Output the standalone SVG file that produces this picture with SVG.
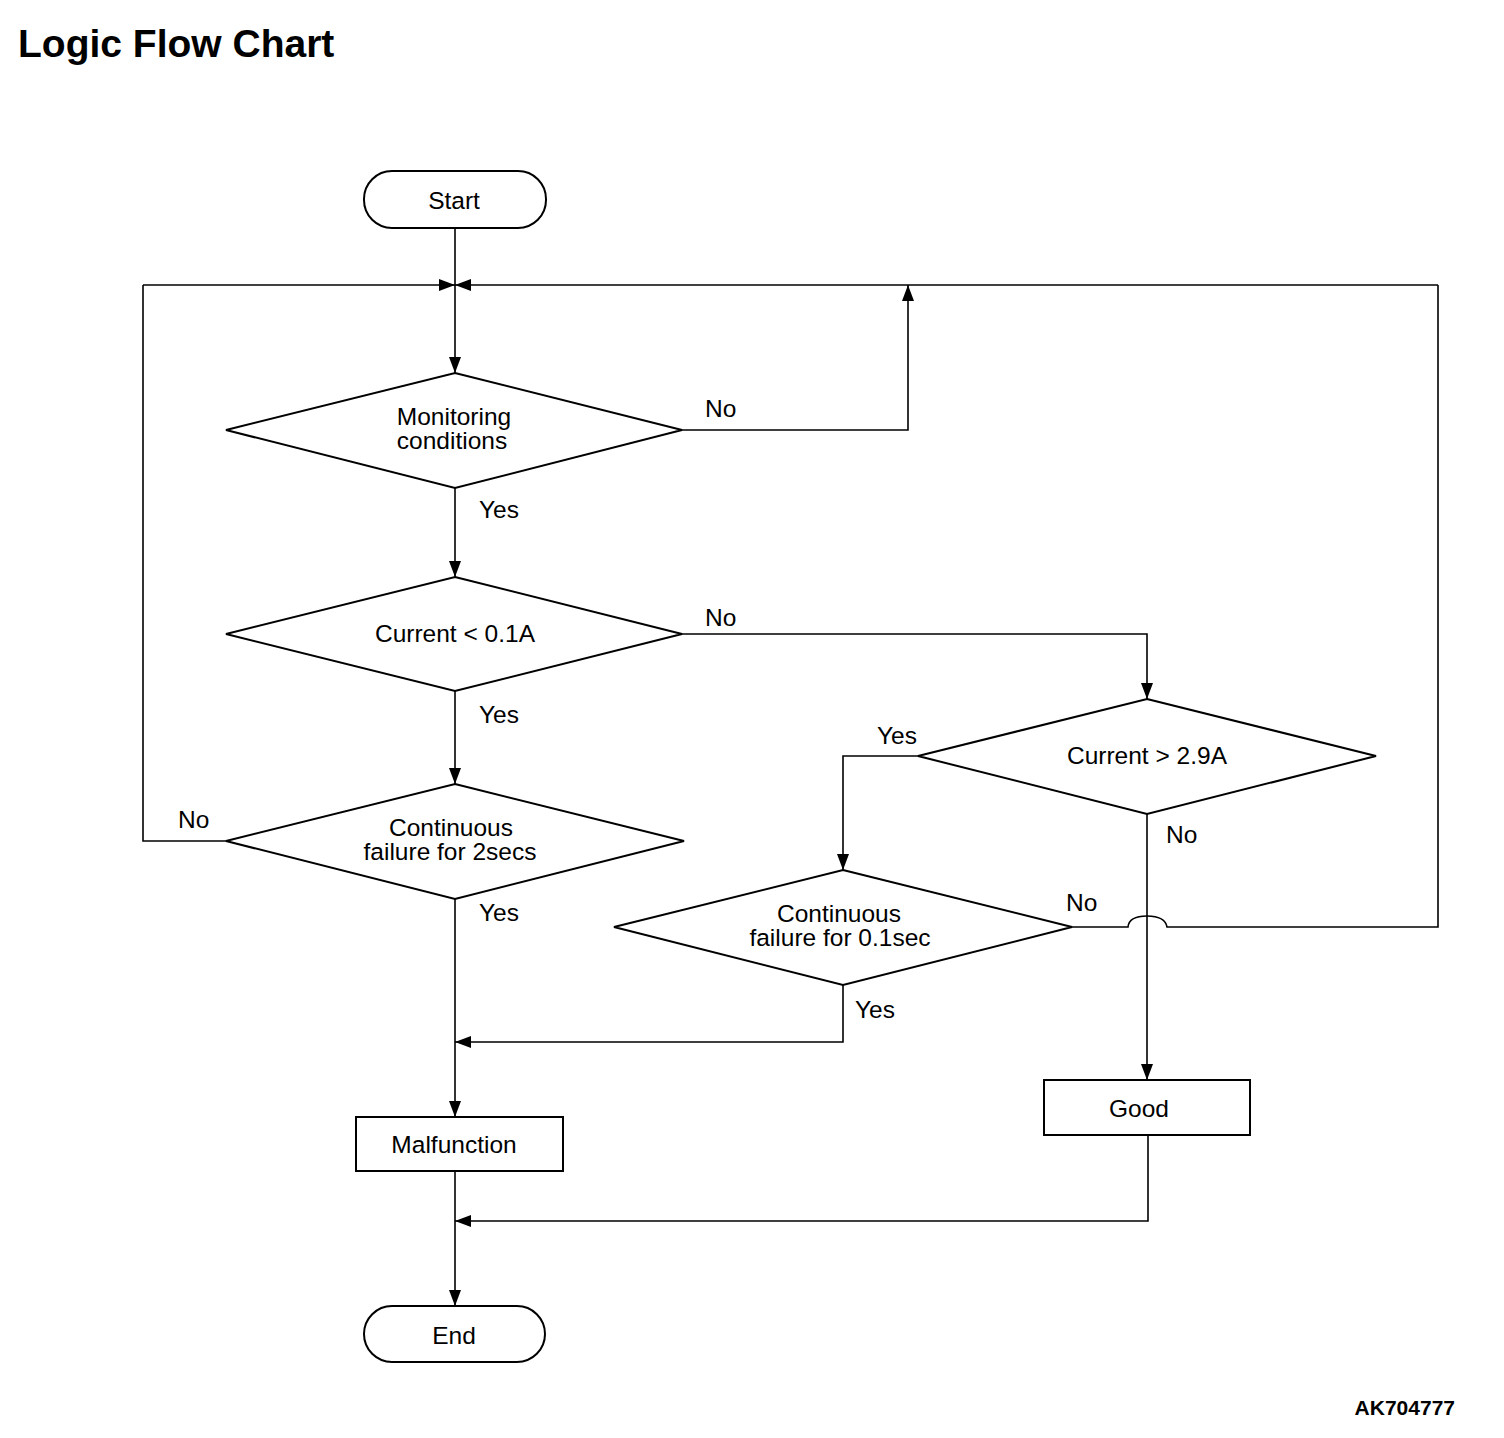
<svg xmlns="http://www.w3.org/2000/svg" width="1504" height="1438" viewBox="0 0 1504 1438">
<defs>
<marker id="ah" viewBox="0 0 16 12" refX="16" refY="6" markerWidth="16" markerHeight="12" markerUnits="userSpaceOnUse" orient="auto">
<path d="M0,0 L16,6 L0,12 Z" fill="#000"/>
</marker>
</defs>
<style>
.shape{fill:#fff;stroke:#000;stroke-width:2}
.line{fill:none;stroke:#000;stroke-width:1.6}
.arr{marker-end:url(#ah)}
text{font-family:"Liberation Sans",Arial,sans-serif;font-size:24.5px;fill:#000}
.c{text-anchor:middle}
</style>
<rect width="1504" height="1438" fill="#fff"/>
<text x="18" y="57" style="font-size:39px;font-weight:bold">Logic Flow Chart</text>
<text x="1455" y="1415" style="font-size:21px;font-weight:bold;text-anchor:end">AK704777</text>

<g id="connectors">
<path class="line arr" d="M455,228 V373"/>
<path class="line arr" d="M143,285 H455"/>
<path class="line arr" d="M1438,285 H455"/>
<path class="line arr" d="M682,430 H908 V285"/>
<path class="line arr" d="M455,488 V577"/>
<path class="line arr" d="M682,634 H1147 V699"/>
<path class="line arr" d="M455,691 V784"/>
<path class="line" d="M226,841 H143 V285"/>
<path class="line arr" d="M455,899 V1117"/>
<path class="line arr" d="M918,756 H843 V870"/>
<path class="line arr" d="M1147,814 V1080"/>
<path class="line" d="M1072,927 H1128 Q1129,916 1147,916 Q1165,916 1167,927 H1438 V285"/>
<path class="line arr" d="M843,985 V1042 H455"/>
<path class="line arr" d="M455,1171 V1306"/>
<path class="line arr" d="M1148,1135 V1221 H455"/>
</g>

<g id="start">
<rect class="shape" x="364" y="171" width="182" height="57" rx="28"/>
<text class="c" x="454" y="209">Start</text>
</g>
<g id="monitoring">
<polygon class="shape" points="455,373 682,430 455,488 226,430"/>
<text class="c" x="454" y="425">Monitoring</text>
<text class="c" x="452" y="449">conditions</text>
</g>
<g id="current-low">
<polygon class="shape" points="455,577 682,634 455,691 226,634"/>
<text class="c" x="455" y="642">Current &lt; 0.1A</text>
</g>
<g id="cont-2secs">
<polygon class="shape" points="455,784 684,841 455,899 226,841"/>
<text class="c" x="451" y="836">Continuous</text>
<text class="c" x="450" y="860">failure for 2secs</text>
</g>
<g id="current-high">
<polygon class="shape" points="1147,699 1376,756 1147,814 918,756"/>
<text class="c" x="1147" y="764">Current &gt; 2.9A</text>
</g>
<g id="cont-01sec">
<polygon class="shape" points="843,870 1072,927 843,985 614,927"/>
<text class="c" x="839" y="922">Continuous</text>
<text class="c" x="840" y="946">failure for 0.1sec</text>
</g>
<g id="malfunction">
<rect class="shape" x="356" y="1117" width="207" height="54"/>
<text class="c" x="454" y="1153">Malfunction</text>
</g>
<g id="good">
<rect class="shape" x="1044" y="1080" width="206" height="55"/>
<text class="c" x="1139" y="1117">Good</text>
</g>
<g id="end">
<rect class="shape" x="364" y="1306" width="181" height="56" rx="28"/>
<text class="c" x="454" y="1344">End</text>
</g>

<g id="labels">
<text x="705" y="417">No</text>
<text x="479" y="518">Yes</text>
<text x="705" y="626">No</text>
<text x="479" y="723">Yes</text>
<text x="178" y="828">No</text>
<text x="479" y="921">Yes</text>
<text x="877" y="744">Yes</text>
<text x="1166" y="843">No</text>
<text x="1066" y="911">No</text>
<text x="855" y="1018">Yes</text>
</g>
</svg>
